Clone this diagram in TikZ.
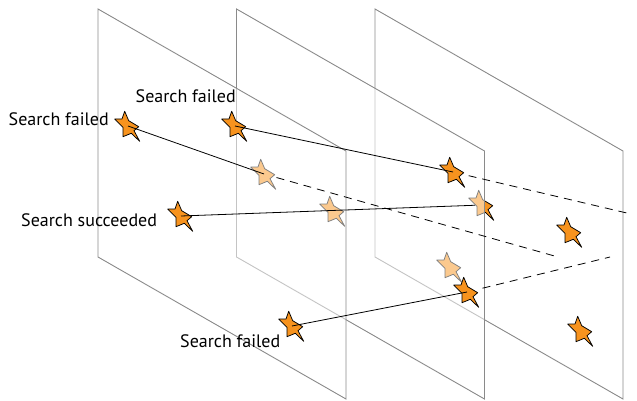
\documentclass[tikz,border=0pt]{standalone}
\usepackage{fontspec}
\setmainfont{PT Sans}
\definecolor{starorange}{HTML}{F7931E}
\definecolor{planegrey}{HTML}{8A8A8A}
\begin{document}
\begin{tikzpicture}[x=1pt,y=-1pt,
  plane/.style={draw=planegrey, line width=0.9pt, fill=white, fill opacity=0.5},
  conn/.style={draw=black, line width=0.8pt},
  dashconn/.style={conn, dash pattern=on 8pt off 6pt},
  lbl/.style={inner sep=0pt, font=\fontsize{18}{21}\selectfont},
  starmark/.pic={\draw[fill=starorange, draw=black, line width=0.75pt, line join=round]
     (-13.3,-7) -- (-6,-7) -- (-3.3,-14.7) -- (0.7,-5.3) -- (10.7,0.7) -- (6,4.7)
     -- (11.7,15.3) -- (3.3,7.3) -- (-5,10.7) -- (-5,1.3) -- cycle;}
]
\useasboundingbox (0,0) rectangle (637,401);

% star positions
\coordinate (s1) at (128,126);
\coordinate (s2) at (235,126);
\coordinate (s3) at (181,216);
\coordinate (s4) at (292,326);
\coordinate (s5) at (264,174);
\coordinate (s6) at (333,211);
\coordinate (s7) at (453,172);
\coordinate (s8) at (482,205);
\coordinate (s9) at (450,267);
\coordinate (s10) at (467,292);
\coordinate (s11) at (570,232);
\coordinate (s12) at (581,331);
\coordinate (e1) at (558,257);
\coordinate (e2) at (631,214);
\coordinate (e4) at (610,257);

% back plane and its stars
\path[plane] (375,9) -- (623,151) -- (623,399) -- (375,257) -- cycle;
\pic at (s8) {starmark};
\pic at (s9) {starmark};
\pic at (s11) {starmark};
\pic at (s12) {starmark};

% middle plane and its stars
\path[plane] (236.5,9) -- (484.5,151) -- (484.5,399) -- (236.5,257) -- cycle;
\pic at (s5) {starmark};
\pic at (s6) {starmark};
\pic at (s7) {starmark};
\pic at (s10) {starmark};

% front plane and its stars
\path[plane] (98,9) -- (346,151) -- (346,399) -- (98,257) -- cycle;
\pic at (s1) {starmark};
\pic at (s2) {starmark};
\pic at (s3) {starmark};
\pic at (s4) {starmark};

% connectors
\draw[conn] (s1) -- (s5);
\draw[dashconn, shorten <=13pt] (s5) -- (e1);
\draw[conn] (s2) -- (s7);
\draw[dashconn, shorten <=16pt] (s7) -- (e2);
\draw[conn, shorten >=7pt] (s3) -- (s8);
\draw[conn] (s4) -- (s10);
\draw[dashconn, shorten <=16pt] (s10) -- (e4);

% labels
\node[lbl, anchor=base east] (l1) at (109,126) {Search failed};
\node[lbl, anchor=base east] (l2) at (236,103) {Search failed};
\node[lbl, anchor=base west] (l3) at (21,226) {Search succeeded};
\node[lbl, anchor=base west] (l4) at (180,347) {Search failed};
\end{tikzpicture}
\end{document}
